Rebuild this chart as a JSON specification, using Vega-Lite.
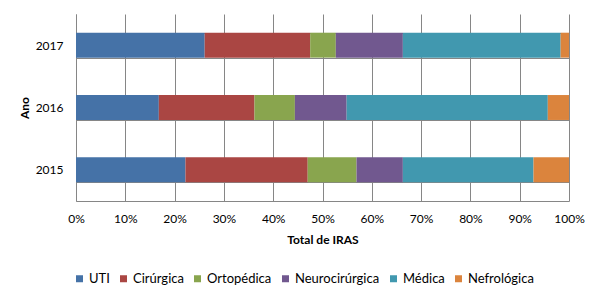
{
  "$schema": "https://vega.github.io/schema/vega-lite/v6.json",
  "width": 493,
  "height": 187,
  "autosize": {"type": "none"},
  "padding": {"left": 76, "top": 14, "right": 30, "bottom": 94},
  "background": "white",
  "config": {
    "font": "Lato",
    "view": {"stroke": null},
    "axis": {"labelFont": "Lato", "titleFont": "Lato", "labelColor": "#000", "titleColor": "#000", "labelFontSize": 12, "titleFontSize": 12}
  },
  "data": {
    "values": [
      {"ano": "2017", "setor": "UTI", "valor": 26.1},
      {"ano": "2017", "setor": "Cirúrgica", "valor": 21.4},
      {"ano": "2017", "setor": "Ortopédica", "valor": 5.2},
      {"ano": "2017", "setor": "Neurocirúrgica", "valor": 13.6},
      {"ano": "2017", "setor": "Médica", "valor": 32.0},
      {"ano": "2017", "setor": "Nefrológica", "valor": 1.7},
      {"ano": "2016", "setor": "UTI", "valor": 16.8},
      {"ano": "2016", "setor": "Cirúrgica", "valor": 19.4},
      {"ano": "2016", "setor": "Ortopédica", "valor": 8.2},
      {"ano": "2016", "setor": "Neurocirúrgica", "valor": 10.5},
      {"ano": "2016", "setor": "Médica", "valor": 40.8},
      {"ano": "2016", "setor": "Nefrológica", "valor": 4.3},
      {"ano": "2015", "setor": "UTI", "valor": 22.2},
      {"ano": "2015", "setor": "Cirúrgica", "valor": 24.8},
      {"ano": "2015", "setor": "Ortopédica", "valor": 9.9},
      {"ano": "2015", "setor": "Neurocirúrgica", "valor": 9.4},
      {"ano": "2015", "setor": "Médica", "valor": 26.5},
      {"ano": "2015", "setor": "Nefrológica", "valor": 7.2}
    ]
  },
  "transform": [
    {"calculate": "indexof(['UTI', 'Cirúrgica', 'Ortopédica', 'Neurocirúrgica', 'Médica', 'Nefrológica'], datum.setor)", "as": "ordem"}
  ],
  "mark": {"type": "bar"},
  "encoding": {
    "y": {
      "field": "ano", "type": "nominal", "sort": "descending",
      "scale": {"paddingInner": 0.6, "paddingOuter": 0.3},
      "axis": {
        "title": "Ano", "titleFontWeight": "bold", "titlePadding": 4,
        "tickBand": "extent", "grid": true, "gridColor": "#868686", "gridOpacity": 1,
        "ticks": false, "labelPadding": 13, "domainColor": "#868686", "labelAngle": 0
      }
    },
    "x": {
      "field": "valor", "type": "quantitative", "stack": "normalize",
      "scale": {"domain": [0, 1]},
      "axis": {
        "title": "Total de IRAS", "titleFontWeight": "bold", "format": ".0%",
        "values": [0, 0.1, 0.2, 0.3, 0.4, 0.5, 0.6, 0.7, 0.8, 0.9, 1],
        "grid": true, "gridColor": "#868686", "gridOpacity": 1, "labelFlush": false,
        "ticks": false, "labelPadding": 12, "domainColor": "#868686",
        "titleY": 38, "titleBaseline": "middle"
      }
    },
    "color": {
      "field": "setor", "type": "nominal",
      "sort": ["UTI", "Cirúrgica", "Ortopédica", "Neurocirúrgica", "Médica", "Nefrológica"],
      "scale": {
        "domain": ["UTI", "Cirúrgica", "Ortopédica", "Neurocirúrgica", "Médica", "Nefrológica"],
        "range": ["#4572A7", "#AA4643", "#89A54E", "#71588F", "#4198AF", "#DB843D"]
      },
      "legend": {
        "title": null, "orient": "none", "direction": "horizontal",
        "legendX": -3, "legendY": 258,
        "symbolType": "square", "symbolSize": 49, "symbolStrokeWidth": 0,
        "labelFont": "Lato", "labelFontSize": 13, "labelColor": "#000",
        "labelOffset": 3, "columnPadding": 7
      }
    },
    "order": {"field": "ordem", "type": "quantitative", "sort": "ascending"}
  }
}
